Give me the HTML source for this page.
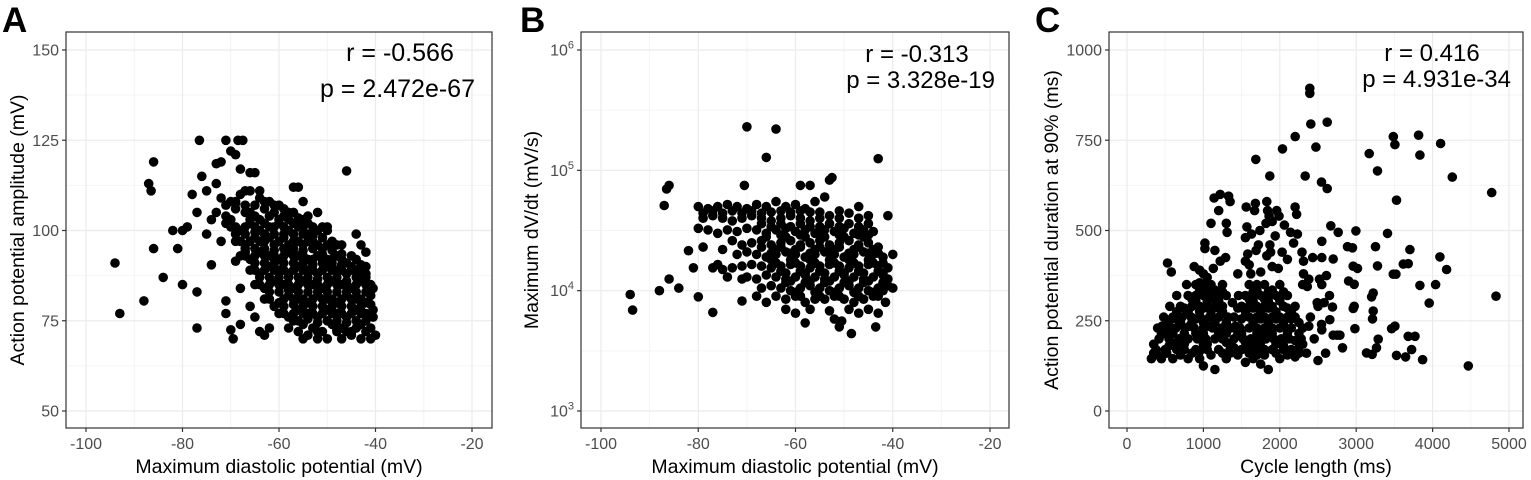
<!DOCTYPE html>
<html><head><meta charset="utf-8"><style>
html,body{margin:0;padding:0;background:#fff;}
svg{display:block;font-family:"Liberation Sans",Arial,sans-serif;}
</style></head><body>
<svg id="fig" width="1531" height="480" viewBox="0 0 1531 480" xmlns="http://www.w3.org/2000/svg"></svg>
<script>
// ---------- DATA ----------
const xTicksA = [-100,-80,-60,-40,-20];
const yTicksA = [50,75,100,125,150];
const xTicksB = [-100,-80,-60,-40,-20];
const yTicksB = [3,4,5,6];
const xTicksC = [0,1000,2000,3000,4000,5000];
const yTicksC = [0,250,500,750,1000];

const pointsA = [
[-94,91],[-93,77],[-88,80.5],[-86,119],[-87,113],[-86.5,111],[-86,95],[-84,87],[-82,100],[-81,95],[-80,100],[-80,85],[-79,101],[-78,110],[-77,105],[-77,73],[-77,83],[-76.5,125],[-76,115],[-75,111],[-75,99],[-74,90.5],[-74,103],[-73,118.5],[-73,113],[-72,119],[-72,97],[-71,125],[-71,80.5],[-71,77],[-70,122],[-70,72.5],[-69.5,70],[-69,121],[-68.5,125],[-67.5,125],[-68,117],[-67,111],[-67,94],[-68,74],[-68,84],[-69,91.5],[-66,116],[-65,116],[-64,111],[-66,79],[-65,76],[-64,72],[-63,71],[-62,73],[-57,112],[-56,112],[-55,108],[-52,105],[-50,101],[-46,116.5],[-44,99],[-43,96],[-42,94],[-42,88],[-40.5,78],[-40,71],[-41,70],[-43,70],[-45,71],[-47,70],[-48,72],[-50,70],[-52,70],[-54,71],[-55,70],[-56,72],
[-72,109],[-70,108],[-68,110],[-66,111],[-64,109],[-62,108],[-60,107],
[-73,105],[-71,104],[-69,106],[-67,105],[-65,104],[-63,106],[-61,105],[-59,104],[-57,105],[-55,103],
[-70,101],[-68,100],[-66,102],[-64,100],[-62,101],[-60,102],[-58,100],[-56,101],[-54,99],[-52,100],[-50,100],
[-69,97],[-67,96],[-65,98],[-63,97],[-61,96],[-59,98],[-57,97],[-55,96],[-53,97],[-51,95],[-49,97],[-47,96],
[-68,93],[-66,92],[-64,94],[-62,93],[-60,92],[-58,94],[-56,93],[-54,92],[-52,93],[-50,92],[-48,93],[-46,91],[-44,92],
[-66,89],[-64,88],[-62,90],[-60,89],[-58,88],[-56,90],[-54,89],[-52,88],[-50,90],[-48,89],[-46,88],[-44,89],[-42,90],
[-65,85],[-63,84],[-61,86],[-59,85],[-57,84],[-55,86],[-53,85],[-51,84],[-49,86],[-47,85],[-45,84],[-43,86],[-41,85],
[-63,81],[-60,80],[-58,82],[-56,81],[-54,80],[-52,82],[-50,81],[-48,80],[-46,82],[-44,81],[-42,80],[-41,82],
[-60,77],[-58,76],[-56,78],[-54,77],[-52,76],[-50,78],[-48,77],[-46,76],[-44,78],[-42,77],[-40.5,76],
[-58,73],[-55,74],[-53,73],[-51,72],[-49,74],[-47,73],[-45,72],[-43,74],[-41,73],
[-71,107],[-69,107.5],[-65,107],[-61,107],
[-70,103],[-66,103],[-64,103],[-60,103],[-58,103],[-56,103.5],[-54,102],
[-69,99],[-67,99],[-65,99.5],[-63,99],[-61,99],[-59,99],[-57,99],[-55,99],[-53,98.5],[-51,98],
[-67,95],[-65,95],[-63,95],[-61,94.5],[-59,95],[-57,95],[-55,94.5],[-53,95],[-51,93.5],[-49,94.5],[-47,93.5],
[-65,91],[-63,91],[-61,91],[-59,91],[-57,91],[-55,91],[-53,90.5],[-51,91],[-49,91],[-47,90.5],[-45,90],[-43,90.5],
[-64,87],[-62,87],[-60,87],[-58,87],[-56,87],[-54,87],[-52,86.5],[-50,87],[-48,87],[-46,86],[-44,87],[-42,87],
[-62,83],[-60,83],[-58,83.5],[-56,83],[-54,83],[-52,83],[-50,83],[-48,83],[-46,83],[-44,83],[-42,83],[-40.5,84],
[-61,79],[-59,79],[-57,79.5],[-55,79],[-53,79],[-51,79],[-49,79],[-47,79],[-45,79],[-43,79],[-41,79.5],
[-57,75],[-54,75.5],[-52,74.5],[-50,75],[-48,75],[-46,74.5],[-44,75],[-42,75],
[-69,108],[-67,107],[-63,108],[-59,106],[-66,105],[-62,104],[-58,105],[-54,104],
[-71,102],[-67,101],[-63,102],[-59,101],[-55,101],[-51,101],[-69,101],[-65,101],[-61,101],[-57,102],[-53,101],
[-68,97],[-64,97],[-60,97],[-56,97],[-52,96],[-48,96],[-66,97],[-62,98],[-58,96],[-54,97],[-50,96],
[-67,93],[-63,93],[-59,93],[-55,93],[-51,92],[-47,92],[-45,93],[-65,93],[-61,93],[-57,93],[-53,92],[-49,92],
[-65,89],[-61,89],[-57,89],[-53,89],[-49,89],[-45,89],[-43,88],[-63,89],[-59,89],[-55,89],[-51,89],[-47,89],
[-64,85],[-60,85],[-56,85],[-52,85],[-48,85],[-44,85],[-62,85],[-58,85],[-54,85],[-50,85],[-46,85],[-42,85],
[-62,81],[-59,81],[-55,81],[-51,81],[-47,81],[-43,81],[-57,81],[-53,81],[-49,81],[-45,81],
[-59,77],[-55,77],[-51,77],[-47,77],[-43,77],[-57,77],[-53,77],[-49,77],[-45,77],[-41,77],
[-56,75],[-52,72],[-48,72.5],[-44,73],[-42,72],[-46,72]
];

// y values in mV/s (log scale)
const pointsB = [
[-94,9300],[-93.5,6900],[-88,10000],[-87,51000],[-86.5,70000],[-86,75000],[-86,12500],[-84,10500],[-82,21500],[-81,15500],[-80,33000],[-80,8900],[-77,6600],[-71,8200],[-70,230000],[-64,220000],[-66,128000],[-43,125000],[-53,83000],[-52.5,87000],[-70.5,75000],[-59,75000],[-57,75000],[-41,42000],[-40,20000],[-40,10500],[-41.5,8000],[-43.5,5000],[-48.5,4400],[-51,5000],[-50.5,5600],[-58,5400],[-52,5800],[-60,6500],
[-80,50000],[-78,48000],[-76,50000],[-74,52000],[-72,50000],[-70,48000],[-68,52000],[-66,50000],[-64,55000],[-62,50000],[-60,52000],[-58,48000],[-56,55000],[-54,60000],
[-79,40000],[-77,42000],[-75,40000],[-73,38000],[-71,40000],[-69,42000],[-67,40000],[-65,38000],[-63,40000],[-61,42000],[-59,40000],[-57,38000],[-55,40000],[-53,42000],[-51,40000],[-49,44000],[-47,40000],[-45,42000],
[-78,32000],[-76,30000],[-74,32000],[-72,31000],[-70,33000],[-68,32000],[-66,30000],[-64,32000],[-62,33000],[-60,31000],[-58,32000],[-56,30000],[-54,32000],[-52,31000],[-50,33000],[-48,30000],[-46,32000],[-44,31000],
[-79,23000],[-75,22000],[-73,26000],[-71,24000],[-69,25000],[-67,26000],[-65,24000],[-63,25000],[-61,26000],[-59,24000],[-57,25000],[-55,26000],[-53,24000],[-51,25000],[-49,26000],[-47,24000],[-45,25000],[-43,23000],
[-76,16500],[-72,20000],[-70,21000],[-68,20000],[-66,19000],[-64,20000],[-62,21000],[-60,20000],[-58,19000],[-56,20000],[-54,21000],[-52,20000],[-50,19000],[-48,20000],[-46,21000],[-44,20000],[-42,19000],
[-77,15500],[-73,15500],[-71,16000],[-69,16500],[-67,16000],[-65,15500],[-63,16000],[-61,16500],[-59,16000],[-57,15500],[-55,16000],[-53,16500],[-51,16000],[-49,15500],[-47,16000],[-45,16500],[-43,16000],[-41,15500],
[-74,13000],[-70,13000],[-68,12500],[-66,13500],[-64,13000],[-62,12500],[-60,13000],[-58,13500],[-56,13000],[-54,12500],[-52,13000],[-50,13500],[-48,13000],[-46,12500],[-44,13000],[-42,13500],
[-75,15000],[-71,12500],[-67,10500],[-65,11000],[-63,10500],[-61,10000],[-59,10500],[-57,11000],[-55,10500],[-53,10000],[-51,10500],[-49,11000],[-47,10500],[-45,10000],[-43,10500],[-41,11000],
[-68,9000],[-64,9000],[-62,8500],[-60,9000],[-58,8000],[-56,8500],[-54,8500],[-52,9000],[-50,8500],[-48,8000],[-46,8500],[-44,9000],
[-66,8000],[-62,7000],[-57,7000],[-53,6800],[-49,7000],[-47,6500],[-45,7000],[-43,6500],
[-65,45000],[-61,45000],[-57,45000],[-53,36000],[-49,36000],[-45,36000],[-67,36000],[-63,36000],[-59,36000],[-55,45000],[-51,46000],[-47,50000],
[-66,28000],[-62,28000],[-58,28000],[-54,28000],[-50,28000],[-46,28000],[-64,22000],[-60,22000],[-56,22000],[-52,22000],[-48,22000],[-44,22000],
[-65,18000],[-61,18000],[-57,18000],[-53,18000],[-49,18000],[-45,18000],[-63,14500],[-59,14500],[-55,14500],[-51,14500],[-47,14500],[-43,14500],
[-62,11700],[-58,11700],[-54,11700],[-50,11700],[-46,11700],[-42,11700],[-60,9700],[-56,9700],[-52,9700],[-48,9700],[-44,9700],
[-77,46000],[-73,46000],[-69,46000],[-63,46000],[-59,46000],[-79,44000],[-75,44000],[-71,44000],[-67,44000],
[-65,34000],[-61,34000],[-57,34000],[-55,34000],[-51,34000],[-47,34000],[-63,29000],[-59,29000],[-55,29000],[-51,29000],[-47,29000],[-45,29000],
[-67,23000],[-63,23000],[-59,23000],[-55,23000],[-51,23000],[-47,23000],[-65,20500],[-61,20500],[-57,20500],[-53,20500],[-49,20500],[-45,20500],[-43,20500],
[-64,17000],[-60,17000],[-56,17000],[-52,17000],[-48,17000],[-44,17000],[-42,17000],[-62,14000],[-58,14000],[-54,14000],[-50,14000],[-46,14000],[-42,14000],
[-61,12000],[-57,12000],[-53,12000],[-49,12000],[-45,12000],[-41,12500],[-59,9000],[-55,9000],[-51,9000],[-47,9000],[-43,9000],[-42,10000]
];

const pointsC = [
[2393,894],[2393,880],[2406,795],[2620,800],[2201,760],[2472,731],[2035,726],[1686,697],[1869,651],[2332,651],[2546,634],[2620,616],[3170,713],[3279,665],[3485,760],[3507,738],[3817,764],[3834,709],[4105,741],[4258,648],[4773,605],[4830,318],[4467,125],[3528,584],[3410,492],[3703,447],[4096,427],[4183,392],[4039,350],[3834,348],[3956,299],[3616,407],[3681,408],[3485,379],[3520,379],[3463,228],[3506,235],[3681,207],[3769,207],[3725,170],[3528,154],[3646,150],[3869,142],[3135,161],[3209,157],[3266,175],[3288,199],[3201,316],[3223,327],[3223,277],[3214,255],[3253,455],[3279,402],[2983,228],[2974,290],[2961,284],[2974,351],[2961,401],[3017,395],[2886,455],[2952,452],[2996,499],[2900,360],[2764,495],[2699,421],[2668,513],[2786,210],[2821,175],[2699,210],[2690,288],[2655,253],[2546,240],
[320,145],[450,145],[600,145],[800,145],[950,145],[1000,125],[1150,115],[1300,145],[1550,135],[1650,145],[1750,130],[1850,115],[2000,145],[2200,150],[2350,160],[2500,140],
[380,170],[500,170],[650,170],[750,170],[900,170],[1050,170],[1200,170],[1350,170],[1500,170],[1600,170],[1700,170],[1800,170],[1900,170],[2050,170],[2150,170],[2250,160],[2600,160],
[420,200],[550,200],[680,200],[800,200],[920,200],[1030,200],[1150,200],[1250,200],[1400,200],[1520,200],[1620,200],[1720,200],[1820,200],[1920,200],[2020,200],[2120,200],[2280,200],[2450,200],[2750,210],
[400,230],[520,230],[640,230],[760,230],[880,230],[1000,230],[1120,230],[1240,230],[1360,230],[1480,230],[1600,230],[1700,230],[1800,230],[1900,230],[2000,230],[2150,230],[2300,230],[2550,225],
[480,260],[600,260],[720,260],[840,260],[960,260],[1080,260],[1200,260],[1320,260],[1600,260],[1700,260],[1800,260],[1900,260],[2000,260],[2100,260],[2200,260],[2400,260],
[560,290],[700,290],[850,290],[950,290],[1050,290],[1150,290],[1250,290],[1500,290],[1600,290],[1700,290],[1800,290],[1900,290],[2050,290],[2200,290],[2500,290],
[650,320],[800,320],[900,320],[1000,320],[1100,320],[1200,320],[1300,320],[1550,320],[1650,320],[1750,320],[1850,320],[1950,320],[2100,320],[2650,320],
[780,350],[900,350],[1000,350],[1100,350],[1250,350],[1600,350],[1700,350],[1800,350],[2000,350],[2300,350],[2550,350],
[530,410],[580,385],[880,400],[950,390],[1020,465],[1020,450],[1150,445],[1100,520],[1140,590],[1220,600],[1200,555],[1330,595],[1350,580],[1300,520],[1310,495],[1290,425],[1220,415],[1130,395],[1560,565],[1680,575],[1670,555],[1740,500],[1570,510],[1630,490],[1550,480],[1720,460],[1690,445],[1580,435],[1550,415],[1600,405],[1620,380],[1750,385],[1830,580],[1840,555],[1860,540],[1960,555],[1990,540],[1900,525],[1820,520],[1940,485],[1870,460],[1830,430],[1880,440],[1900,400],[1980,395],[2030,440],[2100,420],[2060,515],[2140,495],[2200,565],[2220,545],[2230,490],[2180,465],[2290,440],[2310,415],[2310,380],[2380,365],[2360,345],[2430,425],[2550,470],[2550,425],[2610,375],[2520,365],[2490,300],[2580,300],[1000,380],[950,355],[1050,370],[1450,380],[1380,300],[1460,320],[1400,260],
[350,185],[450,215],[600,215],[750,185],[900,215],[1050,185],[1200,215],[1350,185],[1500,215],[1650,185],[1800,215],[1950,185],[2100,215],[550,245],[700,245],[850,245],[1000,245],[1150,245],[1300,245],[1650,245],[1850,245],[2050,245],[2250,245],[650,275],[800,275],[950,275],[1100,275],[1250,275],[1550,275],[1750,275],[1950,275],[2150,275],[900,305],[1050,305],[1200,305],[1650,305],[1850,305],[2000,305],[950,335],[1150,335],[1700,335],[1900,335],[400,155],[700,155],[1100,155],[1450,155],[1800,155],[2100,155],[1400,175],[2300,185],
[520,160],[850,160],[1250,160],[1600,160],[1950,160],[2250,175],[650,190],[1000,185],[1300,190],[1550,190],[1750,190],[2200,195],[480,215],[750,215],[1000,215],[1300,215],[1450,215],[1700,215],[1900,215],[2250,215],
[460,235],[820,235],[1060,235],[1420,235],[1650,235],[1850,235],[2050,235],[2380,235],[650,255],[900,255],[1140,255],[1500,255],[1750,255],[1950,255],[2150,255],[750,285],[1000,285],[1200,285],[1450,285],[1650,285],[1850,285],[2100,285],
[850,310],[1150,310],[1600,310],[1800,310],[2000,310],[1050,335],[1250,330],[1650,330],[1850,330],[2050,330],[350,160],[550,180],[950,165],[1350,160],[1700,155],[2050,180]
];

// ---------- DRAWING ----------
const svg = document.getElementById('fig');
const NS = 'http://www.w3.org/2000/svg';
function mk(tag, attrs, parent){
  const e = document.createElementNS(NS, tag);
  for (const k in attrs) e.setAttribute(k, attrs[k]);
  (parent||svg).appendChild(e);
  return e;
}
function linScale(d0,d1,r0,r1){return v => r0 + (v-d0)*(r1-r0)/(d1-d0);}

function panel(cfg){
  const g = mk('g', {});
  
  
  const {bx0,bx1,by0,by1,sx,sy} = cfg;
  cfg.xMinor.forEach(v=>{ const x=sx(v); mk('line',{x1:x,x2:x,y1:by0,y2:by1,stroke:'#f4f4f4','stroke-width':1},g); });
  cfg.yMinor.forEach(v=>{ const y=sy(v); mk('line',{x1:bx0,x2:bx1,y1:y,y2:y,stroke:'#f4f4f4','stroke-width':1},g); });
  cfg.xTicks.forEach(v=>{ const x=sx(v); mk('line',{x1:x,x2:x,y1:by0,y2:by1,stroke:'#ebebeb','stroke-width':1.2},g); });
  cfg.yTicks.forEach(v=>{ const y=sy(v); mk('line',{x1:bx0,x2:bx1,y1:y,y2:y,stroke:'#ebebeb','stroke-width':1.2},g); });
  const pg = mk('g', {}, g);
  
  
  cfg.points.forEach(p=>{
    const c = mk('circle',{cx:sx(p[0]).toFixed(1),cy:sy(p[1]).toFixed(1),r:4.8,fill:'#000'},pg);
    
    
  });
  const box = mk('rect',{x:bx0,y:by0,width:bx1-bx0,height:by1-by0,fill:'none',stroke:'#333','stroke-width':1.2},g);
  
  
  cfg.xTicks.forEach(v=>{
    const x=sx(v);
    mk('line',{x1:x,x2:x,y1:by1,y2:by1+4,stroke:'#333','stroke-width':1.2},g);
    const t = mk('text',{x:x,y:by1+21,'text-anchor':'middle','font-size':16,fill:'#4d4d4d'},g);
    t.textContent = String(v);
    
    
  });
  cfg.yTicks.forEach(v=>{
    const y=sy(v);
    mk('line',{x1:bx0-4,x2:bx0,y1:y,y2:y,stroke:'#333','stroke-width':1.2},g);
    const t = mk('text',{x:bx0-7,y:y+5.5,'text-anchor':'end','font-size':16,fill:'#4d4d4d'},g);
    if (cfg.logY){
      t.textContent = '10';
      const s = mk('tspan',{dy:-7,'font-size':11},t);
      s.textContent = String(v);
    } else t.textContent = String(v);
    
    
  });
  const xt = mk('text',{x:(bx0+bx1)/2,y:473,'text-anchor':'middle','font-size':19.5,fill:'#000'},g);
  xt.textContent = cfg.xTitle;
  
  
  const yt = mk('text',{x:0,y:0,'text-anchor':'middle','font-size':19.5,fill:'#000',transform:`translate(${cfg.yTitleX},${(by0+by1)/2}) rotate(-90)`},g);
  yt.textContent = cfg.yTitle;
  
  
  const L = mk('text',{x:cfg.letterX,y:32,'font-size':35,'font-weight':'bold',fill:'#000'},g);
  L.textContent = cfg.letter;
  
  
  cfg.annot.forEach(a=>{
    const t = mk('text',{x:a[0],y:a[1],'text-anchor':a[3],'font-size':a[4],fill:'#000'},g);
    t.textContent = a[2];
    
    
  });
}

panel({name:'panel-a', letter:'A', letterX:2,
  bx0:66,bx1:492,by0:32,by1:428,
  sx:linScale(-100,-20,86,472), sy:linScale(50,150,411,50),
  xTicks:xTicksA, yTicks:yTicksA, xMinor:[-90,-70,-50,-30], yMinor:[62.5,87.5,112.5,137.5],
  points:pointsA, xTitle:'Maximum diastolic potential (mV)', yTitle:'Action potential amplitude (mV)', yTitleX:24,
  annot:[[400,61,'r = -0.566','middle',25],[475,97,'p = 2.472e-67','end',25]]});

panel({name:'panel-b', letter:'B', letterX:520, logY:true,
  bx0:581,bx1:1009,by0:32,by1:428,
  sx:linScale(-100,-20,601,990), sy:(v => { const lv = v>100 ? Math.log10(v) : v; return 411 + (lv-3)*(50-411)/3; }),
  xTicks:xTicksB, yTicks:yTicksB, xMinor:[-90,-70,-50,-30], yMinor:[3.5,4.5,5.5],
  points:pointsB, xTitle:'Maximum diastolic potential (mV)', yTitle:'Maximum dV/dt (mV/s)', yTitleX:538,
  annot:[[917,62,'r = -0.313','middle',24],[995,88,'p = 3.328e-19','end',24]]});

panel({name:'panel-c', letter:'C', letterX:1035,
  bx0:1109,bx1:1523,by0:32,by1:428,
  sx:linScale(0,5000,1127,1509), sy:linScale(0,1000,411,50),
  xTicks:xTicksC, yTicks:yTicksC, xMinor:[500,1500,2500,3500,4500], yMinor:[125,375,625,875],
  points:pointsC, xTitle:'Cycle length (ms)', yTitle:'Action potential duration at 90% (ms)', yTitleX:1058,
  annot:[[1432,61,'r = 0.416','middle',24],[1511,87,'p = 4.931e-34','end',24]]});
</script>
</body></html>
